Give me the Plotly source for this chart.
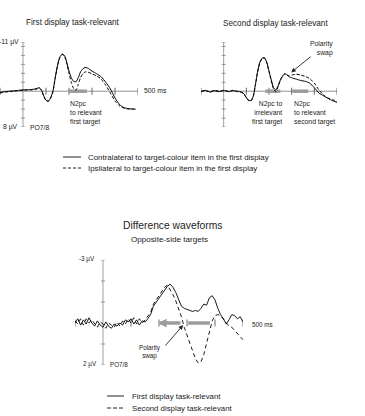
import plotly.graph_objects as go

W, H = 365, 416
FONT = "Liberation Sans, Arial, sans-serif"
TXT = "#222222"
GREY = "#9c9c9c"

# ---------------- data ----------------
# Panel A: first display task-relevant (µV, negative up)
t_a = [-100, -80, -60, -40, -20, 0, 20, 40, 60, 70, 80, 90, 100, 110, 120, 130, 140, 150, 160, 170,
       180, 190, 200, 210, 220, 230, 240, 250, 260, 270, 280, 300, 320, 340, 360, 380, 400, 420, 440,
       460, 480, 490]
contra_a = [0.3, 0.1, 0.0, -0.1, -0.2, -0.3, -0.3, -0.4, -0.6, -0.8, -0.3, 1.0, 2.0, 2.2, 1.5, 0.0,
            -3.0, -5.8, -7.6, -8.3, -8.0, -6.5, -4.5, -3.0, -2.2, -2.1, -3.0, -4.3, -5.0, -5.3, -5.2,
            -4.5, -3.9, -3.2, -2.0, -0.5, 1.5, 3.0, 3.7, 3.9, 4.0, 4.0]
ipsi_a = [0.4, 0.2, 0.1, 0.0, -0.1, -0.2, -0.3, -0.3, -0.5, -0.7, -0.2, 1.1, 2.1, 2.3, 1.6, 0.2,
          -2.8, -5.6, -7.5, -8.2, -7.9, -6.2, -4.0, -2.0, -0.6, -0.2, -1.5, -3.0, -3.9, -4.3, -4.3,
          -3.9, -3.4, -2.7, -1.3, 0.4, 2.2, 3.3, 3.8, 4.0, 4.0, 3.9]

# Panel B: second display task-relevant
t_b = [-100, -80, -60, -40, -20, 0, 20, 40, 60, 80, 90, 100, 110, 120, 130, 140, 150, 160, 170, 180,
       190, 200, 210, 220, 230, 240, 250, 260, 270, 280, 290, 300, 320, 340, 360, 380, 400, 420, 440,
       460, 480, 500]
contra_b = [0.1, -0.2, 0.2, -0.1, 0.1, -0.2, 0.1, -0.1, 0.0, 0.2, 0.6, 1.4, 2.0, 2.1, 1.2, -1.5,
            -4.5, -6.5, -7.4, -7.5, -6.5, -4.5, -2.5, -0.8, -0.3, -1.2, -2.5, -3.4, -3.9, -3.6, -3.2,
            -3.0, -2.7, -2.4, -2.2, -1.8, -0.8, 0.4, 1.0, 1.6, 2.1, 2.5]
ipsi_b = [0.0, -0.1, 0.1, -0.2, 0.0, -0.1, 0.0, -0.2, 0.1, 0.3, 0.7, 1.5, 2.1, 2.2, 1.3, -1.3,
          -4.3, -6.4, -7.3, -7.4, -6.4, -4.4, -2.3, -0.5, 0.1, -1.0, -2.4, -3.4, -3.9, -3.6, -3.4,
          -3.6, -3.8, -3.6, -3.3, -2.8, -1.8, -0.3, 0.8, 1.5, 1.9, 2.2]

# Panel C: difference waveforms, opposite-side targets
t_c = list(range(-100, 510, 10))
first_c = [0.0, -0.2, 0.1, -0.15, 0.05, -0.25, 0.0, 0.15, -0.1, 0.1, 0.2, -0.05, 0.15, 0.25, 0.05,
           0.15, 0.0, 0.1, -0.15, -0.05, -0.2, 0.05, -0.15, 0.1, -0.1, -0.05,
           -0.2, -0.4, -0.8, -1.0, -1.2, -1.35, -1.6, -1.75, -1.85, -1.7, -1.45, -1.15, -0.8, -0.7,
           -0.65, -0.6, -0.55, -0.6, -0.55, -0.7, -0.9, -0.85, -1.2, -1.3, -1.1, -0.7, -0.4, -0.2,
           0.05, -0.15, -0.4, -0.35, -0.2, -0.3, -0.05]
second_c = [-0.1, 0.05, -0.2, 0.1, -0.2, 0.0, -0.15, 0.05, 0.2, -0.05, 0.05, 0.25, 0.0, 0.1, 0.2,
            -0.05, 0.15, -0.1, 0.05, -0.2, 0.0, -0.25, 0.05, -0.2, 0.0, -0.15,
            -0.3, -0.5, -0.9, -1.1, -1.3, -1.5, -1.7, -1.8, -1.6, -1.35, -1.05, -0.7, -0.3, 0.2,
            0.6, 1.0, 1.4, 1.7, 1.9, 1.85, 1.5, 1.0, 0.4, -0.1, -0.35, -0.4, -0.35, -0.2, 0.0,
            0.15, 0.2, 0.35, 0.5, 0.65, 0.8]

time_ticks = [-100, 100, 200, 300, 400, 500]
uv_ticks_top = [-11, -10, -8, -6, -4, -2, 2, 4, 6, 8]
uv_ticks_bot = [-3, -2, -1, 1, 2]
n2pc_a = [196, 278]
n2pc_b1 = [184, 250]
n2pc_b2 = [303, 373]
n2pc_c2 = [304, 382]


def px(x):
    return x / W


def py(y):
    return 1 - y / H


fig = go.Figure()
AXC = "#777777"


def axes_traces(xa, ya, ymin, ymax, yticks, xline=True):
    if xline:
        fig.add_trace(go.Scatter(x=[-100, 500], y=[0, 0], mode="lines",
                                 line=dict(color=AXC, width=0.8),
                                 xaxis=xa, yaxis=ya, hoverinfo="skip", showlegend=False))
    fig.add_trace(go.Scatter(x=time_ticks, y=[0] * len(time_ticks), mode="markers",
                             marker=dict(symbol="line-ns", size=5, line=dict(width=0.8, color="#444")),
                             xaxis=xa, yaxis=ya, hoverinfo="skip", showlegend=False))
    fig.add_trace(go.Scatter(x=[0, 0], y=[ymin, ymax], mode="lines",
                             line=dict(color=AXC, width=0.7),
                             xaxis=xa, yaxis=ya, hoverinfo="skip", showlegend=False))
    fig.add_trace(go.Scatter(x=[0] * len(yticks), y=yticks, mode="markers",
                             marker=dict(symbol="line-ew", size=3, line=dict(width=0.7, color="#777")),
                             xaxis=xa, yaxis=ya, hoverinfo="skip", showlegend=False))


def bar(xa, ya, rng):
    fig.add_trace(go.Scatter(x=rng, y=[0, 0], mode="lines", line=dict(color=GREY, width=3.5),
                             xaxis=xa, yaxis=ya, hoverinfo="skip", showlegend=False))


# Panel A
axes_traces("x", "y", -11, 8, uv_ticks_top)
bar("x", "y", n2pc_a)
fig.add_trace(go.Scatter(x=t_a, y=ipsi_a, mode="lines", line=dict(color="black", width=1.0, dash="3px,2px", shape="spline", smoothing=0.6),
                         xaxis="x", yaxis="y", showlegend=False))
fig.add_trace(go.Scatter(x=t_a, y=contra_a, mode="lines", line=dict(color="black", width=1.0, shape="spline", smoothing=0.6),
                         xaxis="x", yaxis="y", showlegend=False))

# Panel B
axes_traces("x2", "y2", -11, 8, uv_ticks_top)
bar("x2", "y2", n2pc_b1)
bar("x2", "y2", n2pc_b2)
fig.add_trace(go.Scatter(x=t_b, y=ipsi_b, mode="lines", line=dict(color="black", width=1.0, dash="3px,2px", shape="spline", smoothing=0.6),
                         xaxis="x2", yaxis="y2", showlegend=False))
fig.add_trace(go.Scatter(x=t_b, y=contra_b, mode="lines", line=dict(color="black", width=1.0, shape="spline", smoothing=0.6),
                         xaxis="x2", yaxis="y2", showlegend=False))

# Panel C
axes_traces("x3", "y3", -3, 2, uv_ticks_bot, xline=False)
bar("x3", "y3", n2pc_c2)
fig.add_trace(go.Scatter(x=t_c, y=second_c, mode="lines", line=dict(color="black", width=0.9, dash="4px,3px"),
                         xaxis="x3", yaxis="y3", showlegend=False))
fig.add_trace(go.Scatter(x=t_c, y=first_c, mode="lines", line=dict(color="black", width=0.9),
                         xaxis="x3", yaxis="y3", showlegend=False))

ann = []


def label(x, y, text, size=6.8, xanchor="left", yanchor="middle", align="left", xref="paper", yref="paper", color=TXT):
    ann.append(dict(x=x, y=y, xref=xref, yref=yref, text=text, showarrow=False,
                    xanchor=xanchor, yanchor=yanchor, align=align,
                    font=dict(family=FONT, size=size, color=color)))


# titles
label(px(73), py(22), "First display task-relevant", size=8.2, xanchor="center")
label(px(275), py(23), "Second display task-relevant", size=8.2, xanchor="center")
label(px(172), py(226), "Difference waveforms", size=10.3, xanchor="center")
label(px(169), py(240), "Opposite-side targets", size=8.1, xanchor="center")

# axis labels panel A
label(px(21), py(42), "-11 µV", xanchor="right")
label(px(20), py(127), "8 µV", xanchor="right")
label(px(28), py(127), "PO7/8")
label(px(142), py(90), "500 ms")

# N2pc labels
label(px(68), py(98), "N2pc<br>to relevant<br>first target", yanchor="top")
label(px(284), py(98), "N2pc to<br>irrelevant<br>first target", yanchor="top", xanchor="right", align="right")
label(px(292), py(98), "N2pc<br>to relevant<br>second target", yanchor="top")
label(px(335), py(48), "Polarity<br>swap", xanchor="right", align="right")

# panel C labels
label(px(97), py(259), "-3 µV", xanchor="right", size=6.3)
label(px(99), py(364), "2 µV", xanchor="right", size=6.3)
label(px(108), py(364), "PO7/8", size=6.3)
label(px(250), py(324), "500 ms", size=6.3)
label(px(150), py(352), "Polarity<br>swap", xanchor="center", align="center", size=6.3)

# legends (text)
label(px(86), py(157), "Contralateral to target-colour item in the first display", size=7.9)
label(px(86), py(168), "Ipsilateral to target-colour item in the first display", size=7.9)
label(px(130), py(396), "First display task-relevant", size=7.8)
label(px(130), py(408), "Second display task-relevant", size=7.8)

# arrows
ann.append(dict(x=298, y=-4.2, xref="x2", yref="y2", ax=21, ay=-17, text="", showarrow=True,
                arrowhead=2, arrowsize=1, arrowwidth=0.9, arrowcolor="#222"))
ann.append(dict(x=286, y=0.1, xref="x3", yref="y3", ax=-19, ay=22, text="", showarrow=True,
                arrowhead=2, arrowsize=1, arrowwidth=0.9, arrowcolor="#222"))
ann.append(dict(x=196, y=0, xref="x3", yref="y3", ax=282, ay=0, axref="x3", ayref="y3", text="",
                showarrow=True, arrowhead=2, arrowsize=0.5, arrowwidth=3.5, arrowcolor=GREY))

shapes = [
    dict(type="line", xref="paper", yref="paper", x0=px(63), x1=px(81), y0=py(157), y1=py(157),
         line=dict(color="#222", width=1)),
    dict(type="line", xref="paper", yref="paper", x0=px(63), x1=px(81), y0=py(168), y1=py(168),
         line=dict(color="#222", width=1, dash="3px,2px")),
    dict(type="line", xref="paper", yref="paper", x0=px(107), x1=px(124), y0=py(396), y1=py(396),
         line=dict(color="#222", width=1)),
    dict(type="line", xref="paper", yref="paper", x0=px(107), x1=px(124), y0=py(408), y1=py(408),
         line=dict(color="#222", width=1, dash="4px,2px")),
]

hidden = dict(visible=False, showgrid=False, zeroline=False, fixedrange=True)
fig.update_layout(
    width=W, height=H, margin=dict(l=0, r=0, t=0, b=0),
    paper_bgcolor="white", plot_bgcolor="white", showlegend=False,
    xaxis=dict(domain=[px(0), px(138)], range=[-100, 500], anchor="y", **hidden),
    yaxis=dict(domain=[py(127), py(42)], range=[8, -11], anchor="x", **hidden),
    xaxis2=dict(domain=[px(201), px(337)], range=[-100, 500], anchor="y2", **hidden),
    yaxis2=dict(domain=[py(127), py(42)], range=[8, -11], anchor="x2", **hidden),
    xaxis3=dict(domain=[px(75), px(243)], range=[-100, 500], anchor="y3", **hidden),
    yaxis3=dict(domain=[py(365), py(260)], range=[2, -3], anchor="x3", **hidden),
    annotations=ann, shapes=shapes,
)

fig.write_html("out.html")
